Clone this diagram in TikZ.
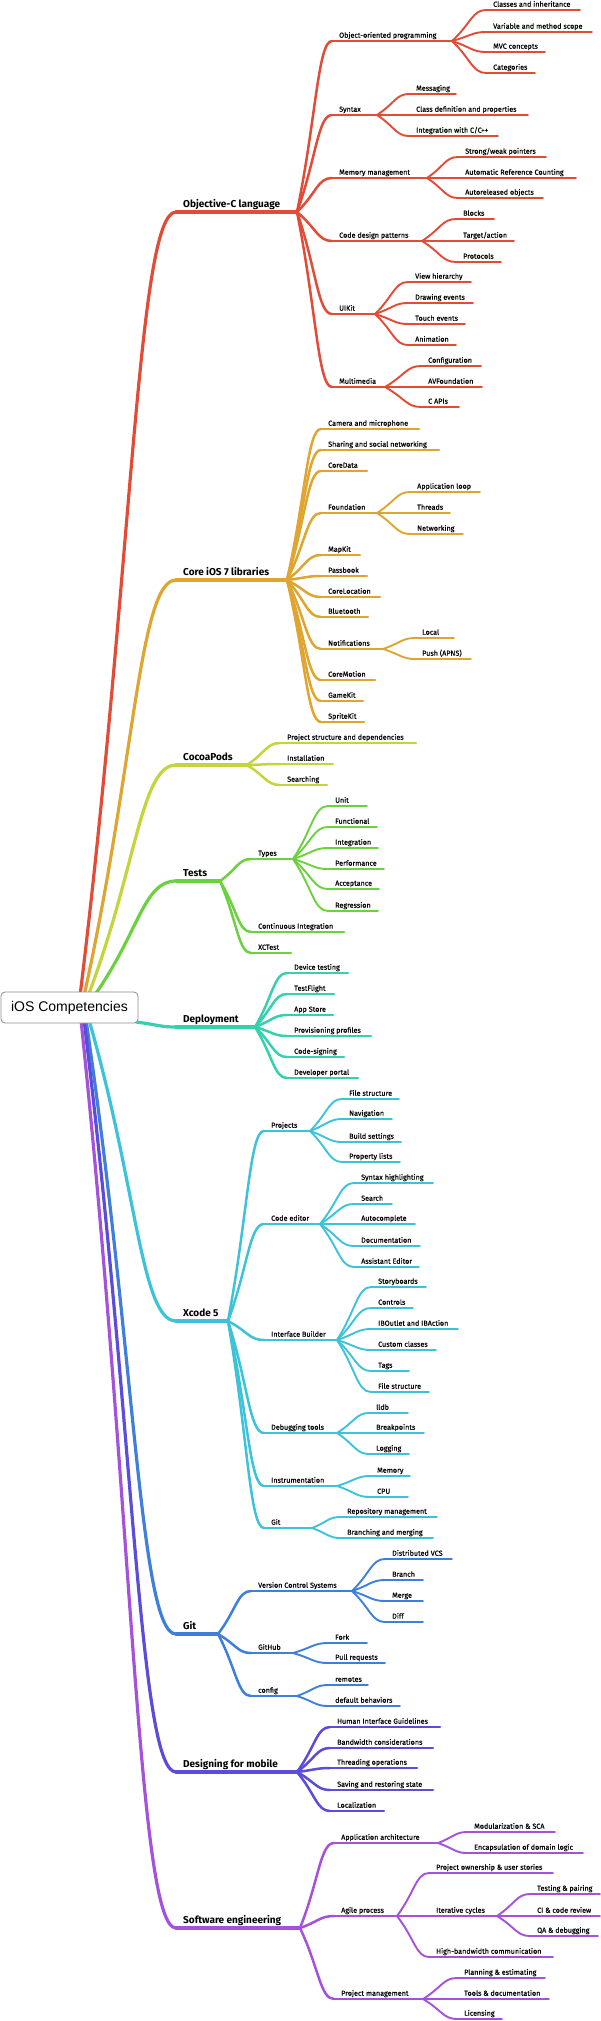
\documentclass[tikz,border=0pt]{standalone}
\usepackage{fontspec}
\setmainfont{Fira Sans}
\newfontfamily\lblfont{Fira Sans}[FakeBold=0.5]
\newfontfamily\rootfont{Liberation Sans}
\usetikzlibrary{calc}
\definecolor{cRed}{HTML}{E24B36}
\definecolor{cOrange}{HTML}{E0A531}
\definecolor{cYellow}{HTML}{C3D53A}
\definecolor{cGreen}{HTML}{6CD13E}
\definecolor{cTeal}{HTML}{35D0AE}
\definecolor{cCyan}{HTML}{3CC3D9}
\definecolor{cBlue}{HTML}{3E7FDB}
\definecolor{cIndigo}{HTML}{5B4CD9}
\definecolor{cPurple}{HTML}{A552DA}
\tikzset{
  lbl/.style={anchor=base west, inner sep=0pt, text=black},
  mainlbl/.style={lbl, font=\bfseries\fontsize{10}{12}\selectfont, yshift=4.5pt},
  sublbl/.style={lbl, font=\lblfont\fontsize{7.2}{9}\selectfont, yshift=3.3pt},
  leaflbl/.style={sublbl},
  mainline/.style={line width=3.2pt, line cap=round},
  subline/.style={line width=2.3pt, line cap=round},
  leafline/.style={line width=1.8pt, line cap=round},
  rootconn/.style={line width=3.2pt, line cap=round},
  mainconn/.style={line width=2.5pt, line cap=round},
  subconn/.style={line width=1.9pt, line cap=round},
  rootbox/.style={draw=black!45, rounded corners=4pt, fill=white, line width=0.8pt,
    minimum width=137pt, minimum height=31pt, inner sep=0pt,
    font=\rootfont\fontsize{14}{16}\selectfont}
}
% name, level, text x, line y, line end x, text
\newcommand\tn[6]{%
  \coordinate (#1-s) at ({#3-7},#4);
  \coordinate (#1-e) at (#5,#4);
  \draw[#2line] (#1-s) -- (#1-e);
  \node[#2lbl] (#1) at (#3,#4) {#6};}
\newcommand\conn[3]{%
  \draw[#3] let \p1=(#1), \p2=(#2) in (\p1) .. controls
    ({\x1+0.55*(\x2-\x1)},{\y1+0.55*(\y2-\y1)}) and ({\x1+0.6*(\x2-\x1)},{\y2}) .. (\p2);}
\newcommand\fan[3]{\foreach \c in {#2} {\conn{#1-e}{\c-s}{#3}}}
\begin{document}
\begin{tikzpicture}[x=1pt,y=-1pt]
\useasboundingbox (0,0) rectangle (600,2021);
\coordinate (r-red) at (80,996);
\coordinate (r-orange) at (84,996);
\coordinate (r-yellow) at (88,996);
\coordinate (r-green) at (94,996);
\coordinate (r-teal) at (136,1022);
\coordinate (r-cyan) at (89,1020);
\coordinate (r-blue) at (86,1020);
\coordinate (r-indigo) at (84,1020);
\coordinate (r-purple) at (81,1020);

% Objective-C
\begin{scope}[color=cRed]
\tn{objc}{main}{183}{212}{297}{Objective-C language}
\tn{oop}{sub}{339}{41}{452}{Object-oriented programming}
\tn{cls}{leaf}{493}{10}{580}{Classes and inheritance}
\tn{var}{leaf}{493}{32}{592}{Variable and method scope}
\tn{mvc}{leaf}{493}{52}{545}{MVC concepts}
\tn{cat}{leaf}{493}{73}{535}{Categories}
\tn{syn}{sub}{339}{115}{377}{Syntax}
\tn{msg}{leaf}{416}{94}{456}{Messaging}
\tn{cdef}{leaf}{416}{115}{528}{Class definition and properties}
\tn{intc}{leaf}{416}{136}{498}{Integration with C/C++}
\tn{mem}{sub}{339}{178}{427}{Memory management}
\tn{swp}{leaf}{465}{157}{546}{Strong/weak pointers}
\tn{arc}{leaf}{465}{178}{576}{Automatic Reference Counting}
\tn{aro}{leaf}{465}{198}{543}{Autoreleased objects}
\tn{cdp}{sub}{339}{241}{422}{Code design patterns}
\tn{blk}{leaf}{463}{219}{494}{Blocks}
\tn{tga}{leaf}{463}{241}{514}{Target/action}
\tn{pro}{leaf}{463}{262}{501}{Protocols}
\tn{uik}{sub}{339}{314}{375}{UIKit}
\tn{vh}{leaf}{415}{282}{471}{View hierarchy}
\tn{de}{leaf}{415}{303}{473}{Drawing events}
\tn{te}{leaf}{415}{324}{465}{Touch events}
\tn{ani}{leaf}{415}{345}{456}{Animation}
\tn{mm}{sub}{339}{387}{385}{Multimedia}
\tn{cfg}{leaf}{428}{366}{481}{Configuration}
\tn{avf}{leaf}{428}{387}{482}{AVFoundation}
\tn{capi}{leaf}{428}{407}{459}{C APIs}
\conn{r-red}{objc-s}{rootconn}
\fan{objc}{oop,syn,mem,cdp,uik,mm}{mainconn}
\fan{oop}{cls,var,mvc,cat}{subconn}
\fan{syn}{msg,cdef,intc}{subconn}
\fan{mem}{swp,arc,aro}{subconn}
\fan{cdp}{blk,tga,pro}{subconn}
\fan{uik}{vh,de,te,ani}{subconn}
\fan{mm}{cfg,avf,capi}{subconn}
\end{scope}

% Core iOS 7
\begin{scope}[color=cOrange]
\tn{core}{main}{183}{580}{287}{Core iOS 7 libraries}
\tn{cam}{sub}{328}{429}{419}{Camera and microphone}
\tn{shr}{sub}{328}{450}{439}{Sharing and social networking}
\tn{cdata}{sub}{328}{471}{367}{CoreData}
\tn{fnd}{sub}{328}{513}{377}{Foundation}
\tn{apl}{leaf}{417}{492}{480}{Application loop}
\tn{thr}{leaf}{417}{513}{450}{Threads}
\tn{net}{leaf}{417}{534}{463}{Networking}
\tn{mapk}{sub}{328}{555}{360}{MapKit}
\tn{pass}{sub}{328}{576}{367}{Passbook}
\tn{cloc}{sub}{328}{597}{380}{CoreLocation}
\tn{blue}{sub}{328}{617}{368}{Bluetooth}
\tn{ntf}{sub}{328}{649}{383}{Notifications}
\tn{loc}{leaf}{422}{638}{454}{Local}
\tn{push}{leaf}{422}{659}{471}{Push (APNS)}
\tn{cmo}{sub}{328}{680}{375}{CoreMotion}
\tn{gk}{sub}{328}{701}{363}{GameKit}
\tn{sk}{sub}{328}{722}{364}{SpriteKit}
\conn{r-orange}{core-s}{rootconn}
\fan{core}{cam,shr,cdata,fnd,mapk,pass,cloc,blue,ntf,cmo,gk,sk}{mainconn}
\fan{fnd}{apl,thr,net}{subconn}
\fan{ntf}{loc,push}{subconn}
\end{scope}

% CocoaPods
\begin{scope}[color=cYellow]
\tn{pods}{main}{183}{765}{247}{CocoaPods}
\tn{psd}{sub}{287}{743}{416}{Project structure and dependencies}
\tn{inst}{sub}{287}{764}{333}{Installation}
\tn{srch}{sub}{287}{785}{327}{Searching}
\conn{r-yellow}{pods-s}{rootconn}
\fan{pods}{psd,inst,srch}{mainconn}
\end{scope}

% Tests
\begin{scope}[color=cGreen]
\tn{tests}{main}{183}{881}{220}{Tests}
\tn{types}{sub}{258}{859}{293}{Types}
\tn{unit}{leaf}{335}{806}{367}{Unit}
\tn{func}{leaf}{335}{827}{377}{Functional}
\tn{integ}{leaf}{335}{848}{378}{Integration}
\tn{perf}{leaf}{335}{869}{384}{Performance}
\tn{acc}{leaf}{335}{889}{379}{Acceptance}
\tn{reg}{leaf}{335}{911}{378}{Regression}
\tn{ci}{sub}{258}{932}{344}{Continuous Integration}
\tn{xct}{sub}{258}{953}{291}{XCTest}
\conn{r-green}{tests-s}{rootconn}
\fan{tests}{types,ci,xct}{mainconn}
\fan{types}{unit,func,integ,perf,acc,reg}{subconn}
\end{scope}

% Deployment
\begin{scope}[color=cTeal]
\tn{dep}{main}{183}{1027}{255}{Deployment}
\tn{dev}{sub}{294}{973}{348}{Device testing}
\tn{tf}{sub}{294}{994}{334}{TestFlight}
\tn{as}{sub}{294}{1015}{333}{App Store}
\tn{prov}{sub}{294}{1036}{371}{Provisioning profiles}
\tn{cs}{sub}{294}{1057}{344}{Code-signing}
\tn{dp}{sub}{294}{1078}{358}{Developer portal}
\conn{r-teal}{dep-s}{rootconn}
\fan{dep}{dev,tf,as,prov,cs,dp}{mainconn}
\end{scope}

% Xcode 5
\begin{scope}[color=cCyan]
\tn{xc}{main}{183}{1321}{228}{Xcode 5}
\tn{proj}{sub}{271}{1131}{310}{Projects}
\tn{fs1}{leaf}{349}{1099}{399}{File structure}
\tn{nav}{leaf}{349}{1119}{392}{Navigation}
\tn{bs}{leaf}{349}{1142}{401}{Build settings}
\tn{pl}{leaf}{349}{1162}{400}{Property lists}
\tn{ce}{sub}{271}{1224}{320}{Code editor}
\tn{sh}{leaf}{361}{1183}{433}{Syntax highlighting}
\tn{sea}{leaf}{361}{1204}{392}{Search}
\tn{auc}{leaf}{361}{1224}{415}{Autocomplete}
\tn{doc}{leaf}{361}{1246}{420}{Documentation}
\tn{ase}{leaf}{361}{1267}{419}{Assistant Editor}
\tn{ib}{sub}{271}{1340}{337}{Interface Builder}
\tn{sb}{leaf}{378}{1287}{426}{Storyboards}
\tn{ctl}{leaf}{378}{1308}{413}{Controls}
\tn{ibo}{leaf}{378}{1329}{458}{IBOutlet and IBAction}
\tn{cc}{leaf}{378}{1350}{436}{Custom classes}
\tn{tags}{leaf}{378}{1371}{409}{Tags}
\tn{fs2}{leaf}{378}{1392}{429}{File structure}
\tn{dbg}{sub}{271}{1433}{337}{Debugging tools}
\tn{lldb}{leaf}{376}{1413}{408}{lldb}
\tn{bp}{leaf}{376}{1433}{424}{Breakpoints}
\tn{log}{leaf}{376}{1454}{409}{Logging}
\tn{ins}{sub}{271}{1486}{337}{Instrumentation}
\tn{memi}{leaf}{377}{1476}{410}{Memory}
\tn{cpu}{leaf}{377}{1497}{408}{CPU}
\tn{xgit}{sub}{271}{1528}{312}{Git}
\tn{rm}{leaf}{347}{1517}{437}{Repository management}
\tn{bm}{leaf}{347}{1538}{433}{Branching and merging}
\conn{r-cyan}{xc-s}{rootconn}
\fan{xc}{proj,ce,ib,dbg,ins,xgit}{mainconn}
\fan{proj}{fs1,nav,bs,pl}{subconn}
\fan{ce}{sh,sea,auc,doc,ase}{subconn}
\fan{ib}{sb,ctl,ibo,cc,tags,fs2}{subconn}
\fan{dbg}{lldb,bp,log}{subconn}
\fan{ins}{memi,cpu}{subconn}
\fan{xgit}{rm,bm}{subconn}
\end{scope}

% Git
\begin{scope}[color=cBlue]
\tn{git}{main}{183}{1634}{218}{Git}
\tn{vcs}{sub}{258}{1591}{352}{Version Control Systems}
\tn{dvcs}{leaf}{392}{1559}{452}{Distributed VCS}
\tn{br}{leaf}{392}{1580}{423}{Branch}
\tn{mrg}{leaf}{392}{1601}{423}{Merge}
\tn{diff}{leaf}{392}{1622}{423}{Diff}
\tn{gh}{sub}{258}{1653}{293}{GitHub}
\tn{fork}{leaf}{335}{1643}{367}{Fork}
\tn{pr}{leaf}{335}{1663}{385}{Pull requests}
\tn{conf}{sub}{258}{1696}{297}{config}
\tn{rem}{leaf}{335}{1685}{368}{remotes}
\tn{defb}{leaf}{335}{1706}{400}{default behaviors}
\conn{r-blue}{git-s}{rootconn}
\fan{git}{vcs,gh,conf}{mainconn}
\fan{vcs}{dvcs,br,mrg,diff}{subconn}
\fan{gh}{fork,pr}{subconn}
\fan{conf}{rem,defb}{subconn}
\end{scope}

% Designing for mobile
\begin{scope}[color=cIndigo]
\tn{dfm}{main}{183}{1772}{297}{Designing for mobile}
\tn{hig}{sub}{337}{1727}{440}{Human Interface Guidelines}
\tn{bw}{sub}{337}{1748}{433}{Bandwidth considerations}
\tn{tho}{sub}{337}{1768}{417}{Threading operations}
\tn{srs}{sub}{337}{1790}{433}{Saving and restoring state}
\tn{lzn}{sub}{337}{1811}{384}{Localization}
\conn{r-indigo}{dfm-s}{rootconn}
\fan{dfm}{hig,bw,tho,srs,lzn}{mainconn}
\end{scope}

% Software engineering
\begin{scope}[color=cPurple]
\tn{se}{main}{183}{1928}{300}{Software engineering}
\tn{aa}{sub}{341}{1843}{438}{Application architecture}
\tn{mod}{leaf}{474}{1832}{555}{Modularization \& SCA}
\tn{enc}{leaf}{474}{1853}{583}{Encapsulation of domain logic}
\tn{agile}{sub}{341}{1916}{397}{Agile process}
\tn{pous}{leaf}{436}{1873}{553}{Project ownership \& user stories}
\tn{itc}{leaf}{436}{1916}{497}{Iterative cycles}
\tn{tp}{leaf}{537}{1894}{600}{Testing \& pairing}
\tn{cicr}{leaf}{537}{1916}{600}{CI \& code review}
\tn{qa}{leaf}{537}{1936}{598}{QA \& debugging}
\tn{hbc}{leaf}{436}{1957}{553}{High-bandwidth communication}
\tn{pm}{sub}{341}{1999}{423}{Project management}
\tn{pe}{leaf}{464}{1978}{545}{Planning \& estimating}
\tn{td}{leaf}{464}{1999}{549}{Tools \& documentation}
\tn{lic}{leaf}{464}{2019}{502}{Licensing}
\conn{r-purple}{se-s}{rootconn}
\fan{se}{aa,agile,pm}{mainconn}
\fan{aa}{mod,enc}{subconn}
\fan{agile}{pous,itc,hbc}{subconn}
\fan{itc}{tp,cicr,qa}{subconn}
\fan{pm}{pe,td,lic}{subconn}
\end{scope}

\node[rootbox] (root) at (69.5,1007.5) {iOS Competencies};
\end{tikzpicture}
\end{document}
